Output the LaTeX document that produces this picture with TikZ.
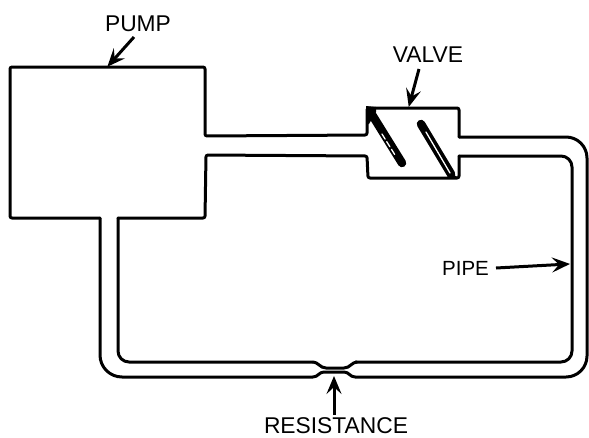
\documentclass[tikz,border=0pt]{standalone}
\usepackage{fontspec}
\setmainfont{Liberation Sans}
\usetikzlibrary{arrows.meta}
\tikzset{
  pipeline/.style={line width=3pt,black,line join=round,line cap=round},
  callout/.style={line width=3pt,black,-{Stealth[length=18pt,width=15pt,inset=7pt]},shorten >=-1pt},
  lbl/.style={font=\fontsize{22.8}{23}\selectfont,inner sep=0pt,anchor=center},
  plate/.style={line width=8.5pt,black,line cap=round},
  slit/.style={line width=1.3pt,white,line cap=round}
}
\begin{document}
\begin{tikzpicture}[x=1pt,y=-1pt]
\useasboundingbox (0,0) rectangle (589,437);
% upper outline: pump, top of pipe, valve, outer pipe, back to the pump
\draw[pipeline,rounded corners=2pt] (100,218) -- (10,218) -- (10,67) -- (205,67) -- (205,136) -- (367,135) -- (367,108) -- (459,108) -- (459,137);
\draw[pipeline,rounded corners=21pt] (459,137) -- (587,137) -- (587,377) -- (315,377);
\draw[pipeline,rounded corners=22pt] (100,218) -- (100,377) -- (315,377);
% inner outline
\draw[pipeline,rounded corners=2pt] (118,218) -- (205,218) -- (206,155) -- (367,156) -- (368,178) -- (459,178) -- (459,156);
\draw[pipeline,rounded corners=11pt] (459,156) -- (572,156) -- (572,362) -- (353,362);
\draw[pipeline,rounded corners=11pt] (118,218) -- (118,362) -- (315,362);
% resistance (erases the straight parts)
\fill[white] (313,359) rectangle (355,379);
\draw[pipeline] (313,362) .. controls (318,362) and (320,368) .. (326,368) -- (344,368) .. controls (350,368) and (352,362) .. (357,362);
\draw[pipeline] (313,377) .. controls (318,377) and (319,372) .. (324,372) -- (344,372) .. controls (349,372) and (350,377) .. (355,377);
% valve plates
\fill[black] (366,106) -- (376,107) -- (376,112) -- (369,124) -- (366,124) -- cycle;
\draw[plate] (371,113) -- (402,163);
\draw[slit,dash pattern=on 6pt off 3pt] (382,134) -- (395,155);
\draw[plate] (421,124) -- (451,174);
\fill[black] (446,170) -- (459,178) -- (448,179) -- cycle;
\draw[slit] (426,132) -- (450,173);
% labels
\node[lbl] (pumpl) at (138,23.5) {PUMP};
\node[lbl] (valvel) at (428,55) {VALVE};
\node[lbl,font=\fontsize{20.5}{21}\selectfont] (pipel) at (465.5,268) {PIPE};
\node[lbl] (resl) at (336,425.5) {RESISTANCE};
\coordinate (pumpa) at (108,66);
\coordinate (valvea) at (409,106);
\coordinate (pipea) at (569,264);
\coordinate (resa) at (334,377);
\coordinate (pumpb) at (134,37);
\coordinate (valveb) at (419,69);
\coordinate (pipeb) at (496,268);
\coordinate (resb) at (334,415);
\draw[callout] (pumpb) -- (pumpa);
\draw[callout] (valveb) -- (valvea);
\draw[callout] (pipeb) -- (pipea);
\draw[callout] (resb) -- (resa);
\end{tikzpicture}
\end{document}
